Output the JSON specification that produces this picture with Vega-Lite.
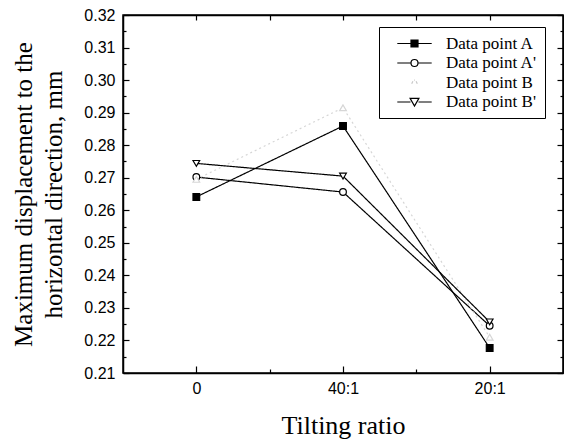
{
  "$schema": "https://vega.github.io/schema/vega-lite/v6.json",
  "width": 440,
  "height": 358,
  "autosize": {"type": "none"},
  "padding": {"left": 123, "top": 15, "right": 1, "bottom": 72},
  "background": "white",
  "config": {
    "view": {"stroke": "black", "strokeWidth": 1.5},
    "axis": {
      "domainColor": "black",
      "domainWidth": 1.5,
      "tickColor": "black",
      "tickWidth": 1.2,
      "grid": false,
      "labelFont": "Liberation Sans",
      "labelFontSize": 16,
      "labelColor": "black",
      "titleFont": "Liberation Serif",
      "titleFontSize": 26,
      "titleFontWeight": "normal",
      "titleColor": "black"
    },
    "legend": {
      "labelFont": "Liberation Serif",
      "labelFontSize": 17,
      "labelColor": "black",
      "strokeColor": "black",
      "fillColor": "white",
      "padding": 8,
      "rowPadding": 1.5,
      "symbolStrokeWidth": 1.2
    }
  },
  "data": {
    "values": [
      {"series": "Data point A", "x": 0, "value": 0.2641},
      {"series": "Data point A", "x": 1, "value": 0.2859},
      {"series": "Data point A", "x": 2, "value": 0.2177},
      {"series": "Data point A'", "x": 0, "value": 0.2702},
      {"series": "Data point A'", "x": 1, "value": 0.2656},
      {"series": "Data point A'", "x": 2, "value": 0.2245},
      {"series": "Data point B", "x": 0, "value": 0.2695},
      {"series": "Data point B", "x": 1, "value": 0.2915},
      {"series": "Data point B", "x": 2, "value": 0.221},
      {"series": "Data point B'", "x": 0, "value": 0.2744},
      {"series": "Data point B'", "x": 1, "value": 0.2705},
      {"series": "Data point B'", "x": 2, "value": 0.2257}
    ]
  },
  "resolve": {
    "axis": {"x": "independent", "y": "independent"},
    "scale": {"shape": "independent", "fill": "independent", "stroke": "independent"}
  },
  "layer": [
    {
      "mark": {"type": "line", "strokeWidth": 1.2},
      "encoding": {
        "x": {
          "field": "x", "type": "quantitative",
          "scale": {"domain": [-0.5, 2.5], "nice": false, "zero": false},
          "axis": {
            "orient": "bottom",
            "values": [0, 0.5, 1, 1.5, 2],
            "labelExpr": "datum.value === 0 ? '0' : datum.value === 1 ? '40:1' : datum.value === 2 ? '20:1' : ''",
            "tickSize": {"condition": {"test": "datum.value % 1 === 0", "value": -7}, "value": -4},
            "labelPadding": 14,
            "title": "Tilting ratio",
            "titlePadding": 16
          }
        },
        "y": {
          "field": "value", "type": "quantitative",
          "scale": {"domain": [0.21, 0.32], "nice": false, "zero": false},
          "axis": {
            "orient": "left",
            "values": [0.21, 0.215, 0.22, 0.225, 0.23, 0.235, 0.24, 0.245, 0.25, 0.255, 0.26, 0.265, 0.27, 0.275, 0.28, 0.285, 0.29, 0.295, 0.3, 0.305, 0.31, 0.315, 0.32],
            "labelExpr": "round(datum.value * 1000) % 10 === 0 ? format(datum.value, '.2f') : ''",
            "tickSize": {"condition": {"test": "round(datum.value * 1000) % 10 === 0", "value": -6}, "value": -3},
            "labelPadding": 14,
            "title": ["Maximum displacement to the", "horizontal direction, mm"],
            "titleFontSize": 25,
            "titleLineHeight": 30,
            "titlePadding": 17
          }
        },
        "color": {
          "field": "series", "type": "nominal",
          "scale": {"domain": ["Data point A'", "Data point A", "Data point B", "Data point B'"], "range": ["black", "black", "#d6d6d6", "black"]},
          "legend": null
        },
        "strokeDash": {
          "field": "series", "type": "nominal",
          "scale": {"domain": ["Data point B", "Data point A", "Data point A'", "Data point B'"], "range": [[2, 3], [1, 0], [1, 0], [1, 0]]},
          "legend": null
        }
      }
    },
    {
      "mark": {"type": "point", "strokeWidth": 1.2, "opacity": 1, "size": 45},
      "encoding": {
        "x": {"field": "x", "type": "quantitative", "axis": null},
        "y": {"field": "value", "type": "quantitative", "axis": null},
        "shape": {
          "field": "series", "type": "nominal",
          "scale": {"domain": ["Data point B'", "Data point B", "Data point A'", "Data point A"], "range": ["triangle-down", "triangle-up", "circle", "square"]},
          "legend": null
        },
        "fill": {
          "field": "series", "type": "nominal",
          "scale": {"domain": ["Data point B'", "Data point A", "Data point A'", "Data point B"], "range": ["white", "black", "white", "white"]},
          "legend": null
        },
        "stroke": {
          "field": "series", "type": "nominal",
          "scale": {"domain": ["Data point B", "Data point B'", "Data point A", "Data point A'"], "range": ["#d6d6d6", "black", "black", "black"]},
          "legend": null
        }
      }
    },
    {
      "transform": [{"filter": "false"}],
      "mark": {"type": "point", "strokeWidth": 1.2, "opacity": 1},
      "encoding": {
        "x": {"field": "x", "type": "quantitative", "axis": null},
        "y": {"field": "value", "type": "quantitative", "axis": null},
        "shape": {
          "field": "series", "type": "nominal",
          "scale": {
            "domain": ["Data point A", "Data point A'", "Data point B", "Data point B'"],
            "range": [
              "M-4.3,0H-0.875M0.875,0H4.3M-0.875,-0.875H0.875V0.875H-0.875Z",
              "M-4.3,0H-0.875M0.875,0H4.3M0.875,0A0.875,0.875 0 1,1 -0.875,0A0.875,0.875 0 1,1 0.875,0Z",
              "M-0.7,0.3L-0.4,-0.3M0.4,-0.3L0.7,0.3M-0.1,-0.6L0.1,-0.6",
              "M-4.3,0H-1M1,0H4.3M-1.1,-0.9H1.1L0,1Z"
            ]
          },
          "legend": {"title": null, "orient": "none", "legendX": 256, "legendY": 12, "symbolSize": 64, "symbolOffset": 19, "labelOffset": 23}
        },
        "fill": {
          "field": "series", "type": "nominal",
          "scale": {"domain": ["Data point A", "Data point A'", "Data point B", "Data point B'"], "range": ["black", "white", "white", "white"]},
          "legend": {"title": null, "orient": "none", "legendX": 256, "legendY": 12, "symbolSize": 64, "symbolOffset": 19, "labelOffset": 23}
        },
        "stroke": {
          "field": "series", "type": "nominal",
          "scale": {"domain": ["Data point A", "Data point A'", "Data point B", "Data point B'"], "range": ["black", "black", "#c8c8c8", "black"]},
          "legend": {"title": null, "orient": "none", "legendX": 256, "legendY": 12, "symbolSize": 64, "symbolOffset": 19, "labelOffset": 23}
        }
      }
    },
    {
      "mark": {"type": "point", "opacity": 0},
      "encoding": {
        "x": {
          "field": "x", "type": "quantitative",
          "axis": {
            "orient": "top",
            "values": [0, 0.5, 1, 1.5, 2],
            "labels": false,
            "tickSize": -5,
            "title": null
          }
        },
        "y": {
          "field": "value", "type": "quantitative",
          "axis": {
            "orient": "right",
            "values": [0.21, 0.215, 0.22, 0.225, 0.23, 0.235, 0.24, 0.245, 0.25, 0.255, 0.26, 0.265, 0.27, 0.275, 0.28, 0.285, 0.29, 0.295, 0.3, 0.305, 0.31, 0.315, 0.32],
            "labels": false,
            "tickSize": {"condition": {"test": "round(datum.value * 1000) % 10 === 0", "value": -6}, "value": -3},
            "title": null
          }
        }
      }
    }
  ]
}
